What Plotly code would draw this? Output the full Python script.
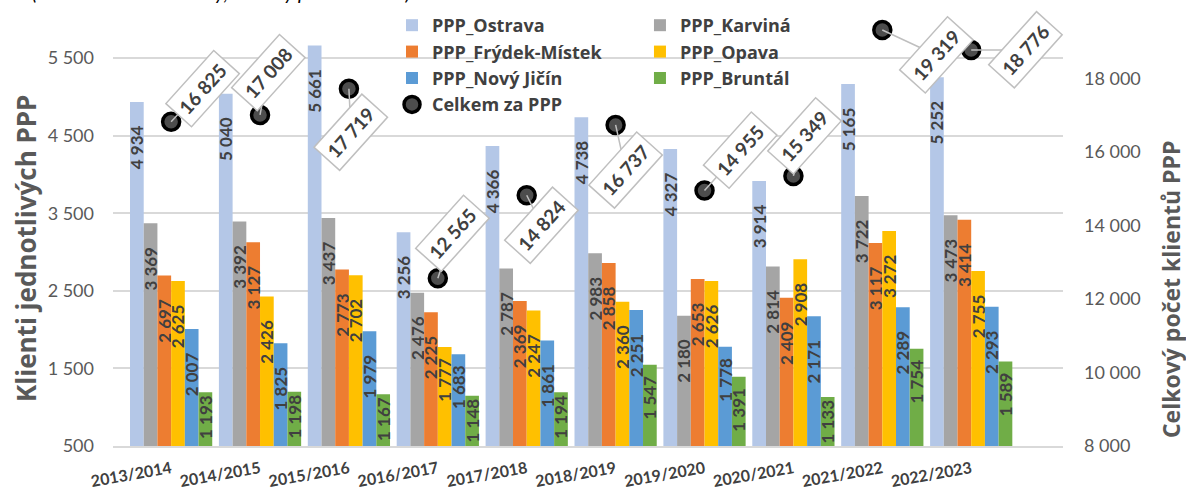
import plotly.graph_objects as go

# ---- data -------------------------------------------------------------
categories = ["2013/2014", "2014/2015", "2015/2016", "2016/2017", "2017/2018",
              "2018/2019", "2019/2020", "2020/2021", "2021/2022", "2022/2023"]

ostrava = [4934, 5040, 5661, 3256, 4366, 4738, 4327, 3914, 5165, 5252]
karvina = [3369, 3392, 3437, 2476, 2787, 2983, 2180, 2814, 3722, 3473]
frydek_mistek = [2697, 3127, 2773, 2225, 2369, 2858, 2653, 2409, 3117, 3414]
opava = [2625, 2426, 2702, 1777, 2247, 2360, 2626, 2908, 3272, 2755]
novy_jicin = [2007, 1825, 1979, 1683, 1861, 2251, 1778, 2171, 2289, 2293]
bruntal = [1193, 1198, 1167, 1148, 1194, 1547, 1391, 1133, 1754, 1589]
celkem = [16825, 17008, 17719, 12565, 14824, 16737, 14955, 15349, 19319, 18776]

left_ticks = [500, 1500, 2500, 3500, 4500, 5500]
right_ticks = [8000, 10000, 12000, 14000, 16000, 18000]

# ---- styling ----------------------------------------------------------
FONT = "Lato"
HEAVY_FONT = "Open Sans"
DARK = "#404040"
AXIS_GRAY = "#595959"
GRID = "#d9d9d9"

# pixel offsets of the total-value callouts (box centre relative to marker)
callout_offsets = [(31, -33), (8, -42), (2, 43), (15, -45), (15, 30),
                   (10, 45), (36, -40), (11, -40), (54, 25), (54, 0)]


def fmt(v):
    return f"{v:,}".replace(",", " ")


def bar_label(v):
    # keep the rotated value a little below the bar top, less on short bars
    if v < 1300:
        pad = 0
    elif v < 1800:
        pad = 2
    else:
        pad = 5
    return fmt(v) + "\u00a0" * pad


series = [
    ("PPP_Ostrava", ostrava, "#B4C7E7", "legend"),
    ("PPP_Karviná", karvina, "#A5A5A5", "legend2"),
    ("PPP_Frýdek-Místek", frydek_mistek, "#ED7D31", "legend"),
    ("PPP_Opava", opava, "#FFC000", "legend2"),
    ("PPP_Nový Jičín", novy_jicin, "#5B9BD5", "legend"),
    ("PPP_Bruntál", bruntal, "#70AD47", "legend2"),
]

fig = go.Figure()

for name, vals, color, lg in series:
    fig.add_trace(go.Bar(
        x=categories, y=vals, name=name,
        marker=dict(color=color, line=dict(width=0)),
        text=[bar_label(v) for v in vals],
        textposition="inside", insidetextanchor="end", textangle=-90,
        constraintext="none",
        textfont=dict(family=FONT, size=17, color=DARK, weight="bold"),
        legend=lg, hoverinfo="skip",
    ))

fig.add_trace(go.Scatter(
    x=categories, y=celkem, yaxis="y2", mode="markers", name="Celkem za PPP",
    marker=dict(size=17, color="#4d4d4d", line=dict(color="black", width=3.5)),
    legend="legend", hoverinfo="skip",
))

annotations = []
for cat, val, (dx, dy) in zip(categories, celkem, callout_offsets):
    annotations.append(dict(
        x=cat, y=val, xref="x", yref="y2",
        text=fmt(val), showarrow=True, arrowhead=0, arrowwidth=1.5,
        arrowcolor="#bfbfbf", standoff=0, ax=dx, ay=dy,
        textangle=-48, bordercolor="#bfbfbf", borderwidth=1.5, borderpad=5,
        bgcolor="white",
        font=dict(family=FONT, size=19, color=DARK, weight="bold"),
    ))

# axis titles
annotations.append(dict(
    text="Klienti jednotlivých PPP", xref="paper", yref="paper",
    x=-0.0916, y=0.449, xanchor="center", yanchor="middle",
    showarrow=False, textangle=-90,
    font=dict(family=HEAVY_FONT, size=26, color=AXIS_GRAY, weight="bold"),
))
annotations.append(dict(
    text="Celkový počet klientů PPP", xref="paper", yref="paper",
    x=1.1137, y=0.3537, xanchor="center", yanchor="middle",
    showarrow=False, textangle=-90,
    font=dict(family=HEAVY_FONT, size=23, color=AXIS_GRAY, weight="bold"),
))
# heading line running off the top edge
annotations.append(dict(
    text="(celkové a dílčí hodnoty, celkový počet klientů)",
    xref="paper", yref="paper", x=-0.0874, y=1.0295,
    xanchor="left", yanchor="middle", showarrow=False,
    font=dict(family=FONT, size=20, color="black", style="italic"),
))

legend_common = dict(
    xanchor="left", yanchor="top", bgcolor="rgba(0,0,0,0)",
    font=dict(family=HEAVY_FONT, size=18, color=DARK, weight="bold"),
    tracegroupgap=0, orientation="v",
)

fig.update_layout(
    width=1186, height=497,
    margin=dict(l=113, r=123, t=5, b=51),
    paper_bgcolor="white", plot_bgcolor="white",
    separators=", ",
    barmode="group", bargap=0.075, bargroupgap=0,
    showlegend=True,
    legend=dict(x=0.2937, y=0.9955, **legend_common),
    legend2=dict(x=0.5547, y=0.9955, **legend_common),
    xaxis=dict(
        showgrid=False, ticks="", tickangle=-10,
        showline=True, linecolor=GRID, linewidth=1.5,
        tickfont=dict(family=FONT, size=16, color=DARK, weight="bold"),
        ticklabelstandoff=6,
    ),
    yaxis=dict(
        range=[500, 6183], tickvals=left_ticks,
        ticktext=[fmt(v) for v in left_ticks],
        showgrid=True, gridcolor=GRID, gridwidth=1.5,
        zeroline=False, showline=False, ticks="",
        tickfont=dict(family=FONT, size=18, color=AXIS_GRAY),
        ticklabelstandoff=18,
    ),
    yaxis2=dict(
        range=[8000, 20000], tickvals=right_ticks,
        ticktext=[fmt(v) for v in right_ticks],
        overlaying="y", side="right",
        showgrid=False, zeroline=False, showline=False, ticks="",
        tickfont=dict(family=FONT, size=18, color=AXIS_GRAY),
        ticklabelstandoff=20,
    ),
    annotations=annotations,
)

fig.write_html("out.html")
